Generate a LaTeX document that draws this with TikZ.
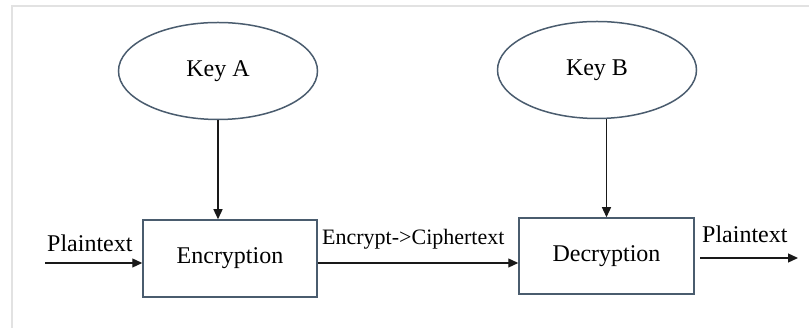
\documentclass[tikz,border=0pt]{standalone}
\usepackage{fontspec}
\setmainfont{Liberation Serif}
\usetikzlibrary{shapes.geometric,arrows.meta}
\definecolor{edgec}{HTML}{4A5C6E}
\definecolor{framec}{HTML}{E2E2E2}
\tikzset{
  keynode/.style={ellipse, draw=edgec, line width=1.5pt, minimum width=199pt, minimum height=97pt, inner sep=0pt, font=\fontsize{24}{26}\selectfont},
  procbox/.style={rectangle, draw=edgec, line width=1.5pt, minimum width=174pt, minimum height=77pt, inner sep=0pt, font=\fontsize{24}{26}\selectfont},
  arr/.style={draw=black!90, line width=1.3pt, -{Triangle[length=10pt,width=9pt]}},
  lbl/.style={anchor=base west, inner sep=0pt, font=\fontsize{24}{26}\selectfont},
  lblsmall/.style={anchor=base west, inner sep=0pt, font=\fontsize{22}{24}\selectfont},
}
\begin{document}
\begin{tikzpicture}[x=1pt,y=1pt]
\useasboundingbox (0,0) rectangle (809,328);
\draw[framec, line width=1.5pt] (12,0) -- (12,322) -- (809,322);
\node[keynode] (keyA) at (218,257) {Key A};
\node[keynode] (keyB) at (597,258) {Key B};
\node[procbox] (enc) at (230,69.5) {Encryption};
\node[procbox, minimum width=175pt, minimum height=76pt] (dec) at (606.5,72) {Decryption};
\coordinate (pin) at (45,65);
\coordinate (outs) at (700,70);
\coordinate (oute) at (798,70);
\draw[arr] (keyA.south) -- (keyA.south |- enc.north);
\draw[arr] (dec.north |- keyB.south) -- (dec.north);
\draw[arr] (pin) -- (pin -| enc.west);
\draw[arr] (enc.east |- pin) -- (dec.west |- pin);
\draw[arr] (outs) -- (oute);
\node[lbl] (ptin) at (47,76) {Plaintext};
\node[lblsmall] (ct) at (322,83) {Encrypt->Ciphertext};
\node[lbl] (ptout) at (702,85) {Plaintext};
\end{tikzpicture}
\end{document}
